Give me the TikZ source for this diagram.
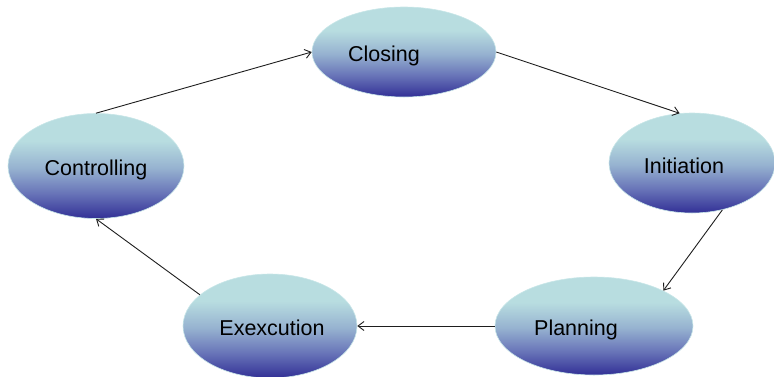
\documentclass[tikz,border=0pt]{standalone}
\usepackage{fontspec}
\setmainfont{Liberation Sans}
\usetikzlibrary{shapes.geometric,arrows.meta}

\definecolor{stagetop}{RGB}{184,221,224}
\definecolor{stagemid}{RGB}{150,178,208}
\definecolor{stagelow}{RGB}{104,116,184}
\definecolor{stagebot}{RGB}{50,48,150}
\definecolor{stagerim}{RGB}{200,230,232}
\definecolor{flowline}{RGB}{30,30,30}

% vertical blend used to fill every stage ellipse (light cyan above, deep blue below);
% the path itself spans the 25bp--75bp band of the shading
\pgfdeclareverticalshading{stagefill}{100bp}{
  color(0bp)=(stagebot);
  color(25bp)=(stagebot);
  color(37bp)=(stagelow);
  color(49bp)=(stagemid);
  color(62bp)=(stagetop);
  color(75bp)=(stagetop);
  color(100bp)=(stagetop)}

\begin{document}
\begin{tikzpicture}[x=1pt,y=-1pt,
  stage/.style={ellipse, inner sep=0pt, shading=stagefill,
    draw=stagerim, line width=0.6pt},
  stagetext/.style={font=\fontsize{21.5}{24}\selectfont, text=black},
  flow/.style={draw=flowline, line width=0.9pt,
    -{Straight Barb[length=6pt,width=9pt]}}]
  \useasboundingbox (0,0) rectangle (774,376);

  % the five stages of the cycle
  \node[stage, minimum width=184pt, minimum height=90pt,
        label={[stagetext, xshift=-20pt, yshift=-4pt]center:Closing}] (clos) at (404,52) {};
  \node[stage, minimum width=176pt, minimum height=105pt,
        label={[stagetext, yshift=-4pt]center:Controlling}] (ctrl) at (96,166) {};
  \node[stage, minimum width=166pt, minimum height=100pt,
        label={[stagetext, xshift=-8pt, yshift=-3pt]center:Initiation}] (init) at (692,163) {};
  \node[stage, minimum width=174pt, minimum height=104pt,
        label={[stagetext, xshift=2pt, yshift=-2pt]center:Exexcution}] (exec) at (270,326) {};
  \node[stage, minimum width=198pt, minimum height=98pt,
        label={[stagetext, xshift=-18pt, yshift=-4pt]center:Planning}] (plan) at (594,326) {};

  % arrows around the cycle
  \draw[flow] (ctrl.north) -- (clos.west);
  \draw[flow] (clos.east) -- (init.104);
  \draw[flow] (init.-57) -- (plan.27);
  \draw[flow] (plan.west) -- (exec.east);
  \draw[flow] (exec.156) -- (ctrl.south);
\end{tikzpicture}
\end{document}
